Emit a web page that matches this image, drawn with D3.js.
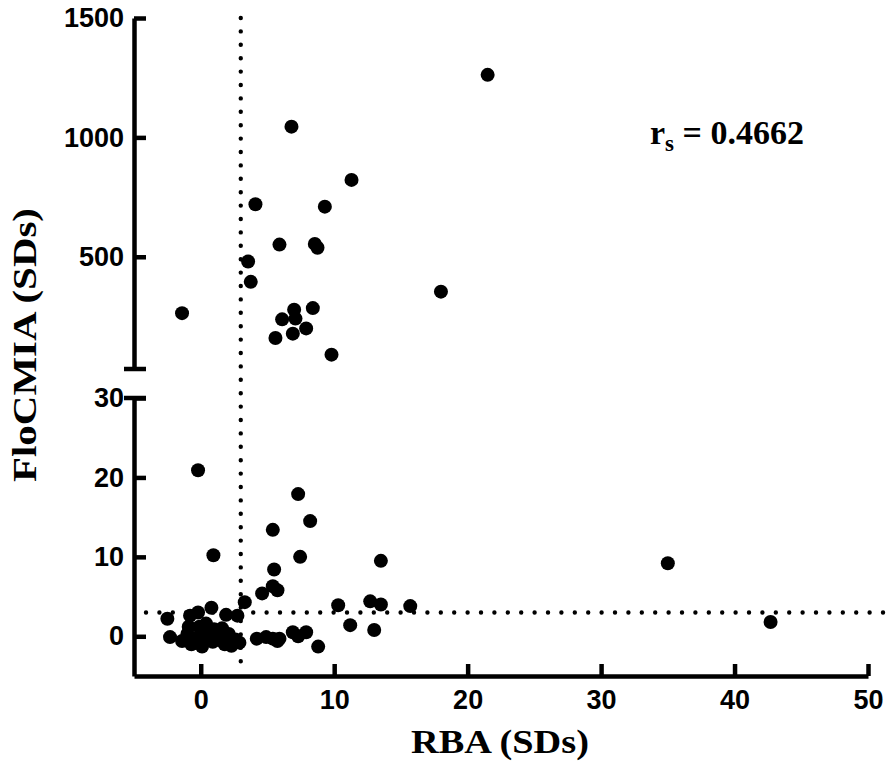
<!DOCTYPE html>
<html>
<head>
<meta charset="utf-8">
<script src="https://cdn.jsdelivr.net/npm/d3@7"></script>
<style>
  html, body { margin: 0; padding: 0; background: #fff; }
  svg { display: block; }
</style>
</head>
<body>
<svg id="chart" width="888" height="768"></svg>
<script>
// RBA (SDs) vs FloCMIA (SDs), broken y axis
const rbaValues = [
    // upper segment (FloCMIA > 30)
    21.5, 6.8, 11.3, 4.1, 9.3, 5.9, 8.55, 8.75, 3.55, 3.75, 18.0, -1.4,
    7.0, 8.4, 6.1, 7.1, 7.9, 6.9, 5.6, 9.8,
    // lower segment
    -0.2, 7.3, 8.2, 5.4, 0.95, 7.45, 13.5, 5.5, 35.0,
    4.6, 5.4, 5.75, 3.3, 0.8, 10.3, 12.7, 13.5, 15.7, 42.7,
    -2.5, -0.8, -0.2, 1.9, 2.75,
    -2.3, -1.4, -0.9, -0.7, -0.1, 0.4, 0.1, -0.3, 0.5, 0.9, 1.3, 1.5, 1.8,
    2.1, 2.3, 2.6, 2.9, 1.0, -1.0, 0.2, 1.6,
    4.2, 4.9, 5.4, 5.75, 5.9, 6.9, 7.3, 7.9, 8.8, 11.2, 13.0
];
const flocmiaValues = [
    1262, 1045, 822, 720, 710, 551, 554, 538, 480, 395, 354, 264,
    278, 285, 238, 241, 200, 178, 160, 90,
    20.9, 17.9, 14.5, 13.4, 10.2, 10.0, 9.5, 8.4, 9.2,
    5.4, 6.3, 5.8, 4.3, 3.6, 3.9, 4.4, 4.0, 3.8, 1.8,
    2.2, 2.6, 3.0, 2.7, 2.6,
    -0.1, -0.6, 1.2, -1.0, 1.2, 1.6, -1.3, -0.2, 0.2, -0.7, 0.6, -0.5, -1.0,
    0.3, -1.2, -0.4, -0.8, 0.9, 0.3, 0.6, 1.0,
    -0.3, -0.1, -0.3, -0.6, -0.3, 0.5, 0.0, 0.5, -1.3, 1.4, 0.8
];

const xTicks = [0, 10, 20, 30, 40, 50];
const upperTicks = [500, 1000, 1500];
const lowerTicks = [0, 10, 20, 30];
const cutoffRBA = 3;
const cutoffFlo = 3;
const breakValue = 30;
const correlationLabel = '0.4662';

const svg = d3.select('#chart');

const x = d3.scaleLinear().domain([-5, 50]).range([134, 868]);
const yUpper = d3.scaleLinear().domain([breakValue, 1500]).range([369, 18]);
const yLower = d3.scaleLinear().domain([-5, breakValue]).range([676, 398]);
const yPos = (value) => (value > breakValue ? yUpper(value) : yLower(value));

const tickFont = (sel) => sel
    .attr('font-family', '"Liberation Sans", Arial, sans-serif')
    .attr('font-weight', 'bold')
    .attr('font-size', 27)
    .attr('fill', '#000');

function styleAxis(g) {
    g.select('.domain').attr('stroke', '#000').attr('stroke-width', 4.5);
    g.selectAll('.tick line').attr('stroke', '#000').attr('stroke-width', 4.5);
    g.selectAll('.tick text').call(tickFont);
}

// reference lines (dotted)
const dotted = svg.append('g')
    .attr('fill', 'none')
    .attr('stroke', '#000')
    .attr('stroke-width', 4.4)
    .attr('stroke-linecap', 'round')
    .attr('stroke-dasharray', '0 13.4');

dotted.append('line')
    .attr('x1', x(cutoffRBA)).attr('x2', x(cutoffRBA))
    .attr('y1', yUpper(1500)).attr('y2', yLower(-3.3));

dotted.append('line')
    .attr('x1', x(-4.1)).attr('x2', x(51.4))
    .attr('y1', yLower(cutoffFlo)).attr('y2', yLower(cutoffFlo));

// axes
const fmt = d3.format('d');

svg.append('g')
    .attr('transform', `translate(${x.range()[0]},0)`)
    .call(d3.axisLeft(yUpper).tickValues(upperTicks).tickFormat(fmt).tickSize(-12).tickSizeOuter(0).tickPadding(10))
    .call(styleAxis);

svg.append('g')
    .attr('transform', `translate(${x.range()[0]},0)`)
    .call(d3.axisLeft(yLower).tickValues(lowerTicks).tickFormat(fmt).tickSize(-12).tickSizeOuter(0).tickPadding(10))
    .call(styleAxis);

svg.append('g')
    .attr('transform', `translate(0,${yLower(-5)})`)
    .call(d3.axisBottom(x).tickValues(xTicks).tickFormat(fmt).tickSize(-12).tickSizeOuter(0).tickPadding(14))
    .call(styleAxis);

// break caps on y axis
svg.append('g')
    .attr('stroke', '#000')
    .attr('stroke-width', 4.5)
    .selectAll('line')
    .data([yUpper(breakValue), yLower(breakValue)])
    .join('line')
    .attr('x1', x.range()[0] - 10)
    .attr('x2', x.range()[0] + 12)
    .attr('y1', (d) => d)
    .attr('y2', (d) => d);

// points
svg.append('g')
    .selectAll('circle')
    .data(rbaValues.map((v, i) => [v, flocmiaValues[i]]))
    .join('circle')
    .attr('cx', (d) => x(d[0]))
    .attr('cy', (d) => yPos(d[1]))
    .attr('r', 7)
    .attr('fill', '#000');

// axis titles
const serif = '"Liberation Serif", "Times New Roman", serif';

svg.append('text')
    .attr('x', 500)
    .attr('y', 753)
    .attr('text-anchor', 'middle')
    .attr('font-family', serif)
    .attr('font-weight', 'bold')
    .attr('font-size', 34)
    .attr('textLength', 178)
    .attr('lengthAdjust', 'spacingAndGlyphs')
    .text('RBA (SDs)');

svg.append('text')
    .attr('transform', 'translate(36,345) rotate(-90)')
    .attr('text-anchor', 'middle')
    .attr('font-family', serif)
    .attr('font-weight', 'bold')
    .attr('font-size', 34)
    .attr('textLength', 274)
    .attr('lengthAdjust', 'spacingAndGlyphs')
    .text('FloCMIA (SDs)');

// correlation annotation
const rs = svg.append('text')
    .attr('x', 650)
    .attr('y', 144)
    .attr('font-family', serif)
    .attr('font-weight', 'bold')
    .attr('font-size', 34)
    .attr('fill', '#000');
rs.append('tspan').text('r');
rs.append('tspan').attr('font-size', 23).attr('dy', 7).text('s');
rs.append('tspan').attr('dy', -7).text(` = ${correlationLabel}`);
</script>
</body>
</html>
